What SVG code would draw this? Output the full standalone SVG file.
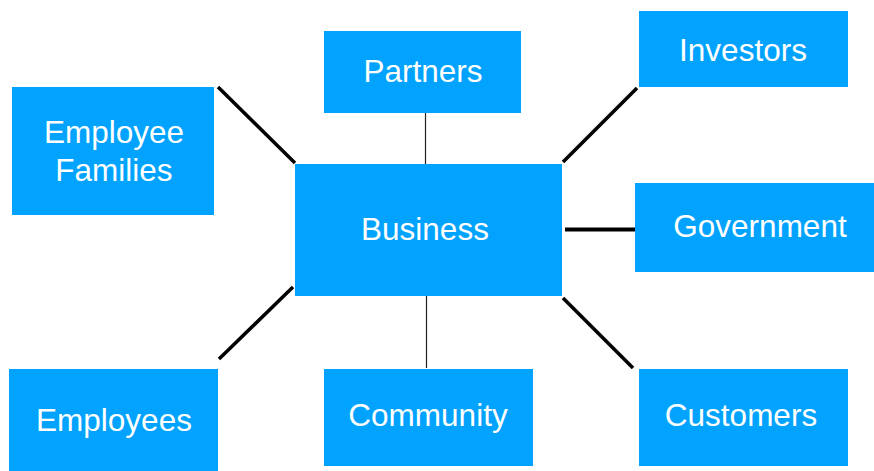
<svg xmlns="http://www.w3.org/2000/svg" width="874" height="471" viewBox="0 0 874 471">
<style>
.box{fill:#02A3FE}
.lbl{fill:#ffffff;font-family:"Liberation Sans",Arial,sans-serif;font-size:31.5px;text-anchor:middle}
.thick{stroke:#000;stroke-width:3.5;fill:none}
.thin{stroke:#222;stroke-width:1.2;fill:none}
</style>
<rect width="874" height="471" fill="#ffffff"/>
<g id="connectors">
<line class="thin" x1="425.5" y1="113" x2="425.5" y2="164"/>
<line class="thin" x1="426.5" y1="296" x2="426.5" y2="368"/>
<line class="thick" x1="218" y1="87" x2="295" y2="163"/>
<line class="thick" x1="637" y1="88" x2="563" y2="162"/>
<line class="thick" x1="565" y1="229.5" x2="635" y2="229.5" style="stroke-width:4"/>
<line class="thick" x1="293" y1="287" x2="219" y2="359"/>
<line class="thick" x1="563" y1="298" x2="633" y2="368"/>
</g>
<g id="business">
<rect class="box" x="295" y="164" width="267" height="132"/>
<text class="lbl" x="425" y="240">Business</text>
</g>
<g id="employee-families">
<rect class="box" x="12" y="87" width="202" height="128"/>
<text class="lbl" x="114" y="143">Employee</text>
<text class="lbl" x="114" y="181">Families</text>
</g>
<g id="partners">
<rect class="box" x="324" y="31" width="197" height="82"/>
<text class="lbl" x="423" y="82">Partners</text>
</g>
<g id="investors">
<rect class="box" x="639" y="11" width="209" height="76"/>
<text class="lbl" x="743" y="61">Investors</text>
</g>
<g id="government">
<rect class="box" x="635" y="183" width="239" height="89"/>
<text class="lbl" x="760" y="237">Government</text>
</g>
<g id="employees">
<rect class="box" x="9" y="369" width="209" height="102"/>
<text class="lbl" x="114" y="431">Employees</text>
</g>
<g id="community">
<rect class="box" x="324" y="369" width="209" height="97"/>
<text class="lbl" x="428" y="426">Community</text>
</g>
<g id="customers">
<rect class="box" x="639" y="369" width="209" height="97"/>
<text class="lbl" x="741" y="426">Customers</text>
</g>
</svg>
